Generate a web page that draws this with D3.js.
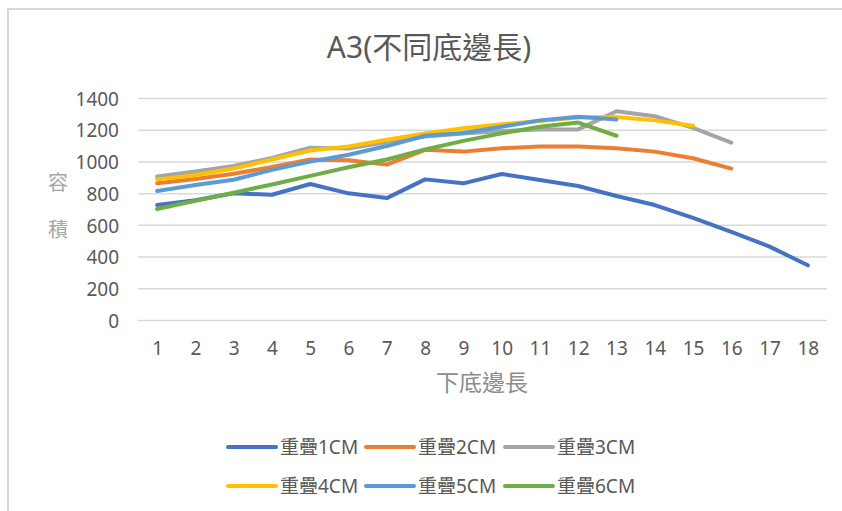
<!DOCTYPE html>
<html><head><meta charset="utf-8">
<script src="https://cdn.jsdelivr.net/npm/d3@7"></script>
<style>body{margin:0;background:#fff}</style>
</head><body><svg id="c" width="842" height="511"></svg>
<script>
const categories = ["1","2","3","4","5","6","7","8","9","10","11","12","13","14","15","16","17","18"];
const seriesNames = ["重疊1CM","重疊2CM","重疊3CM","重疊4CM","重疊5CM","重疊6CM"];
const s1 = [728,758,802,793,861,802,772,890,865,924,886,848,785,728,647,559,466,348];
const s2 = [865,893,925,968,1016,1010,983,1076,1065,1086,1098,1098,1086,1065,1023,958];
const s3 = [908,940,975,1025,1090,1085,1125,1160,1180,1195,1205,1205,1320,1288,1215,1122];
const s4 = [890,918,958,1015,1072,1098,1140,1180,1212,1238,1258,1280,1284,1262,1228];
const s5 = [817,855,888,950,1002,1045,1100,1165,1182,1222,1262,1285,1268];
const s6 = [703,755,806,858,912,966,1015,1078,1133,1180,1222,1248,1165];
const yTicks = [0,200,400,600,800,1000,1200,1400];
const colors = ["#4472C4","#ED7D31","#A5A5A5","#FFC000","#5B9BD5","#70AD47"];
const seriesVals = [s1,s2,s3,s4,s5,s6];

const svg = d3.select("#c");
const fLatin = "'Noto Sans','Noto Sans CJK TC',sans-serif";
const fCJK = "'Noto Sans CJK TC','Noto Sans',sans-serif";

svg.append("rect").attr("x",8).attr("y",9).attr("width",900).attr("height",600)
  .attr("fill","none").attr("stroke","#d9d9d9").attr("stroke-width",2);

const x = d3.scalePoint().domain(categories).range([138,827]).padding(0.5);
const y = d3.scaleLinear().domain([0,1400]).range([320.5,98.5]);

// gridlines
svg.append("g").selectAll("line").data(yTicks).join("line")
  .attr("x1",138).attr("x2",827).attr("y1",d=>y(d)).attr("y2",d=>y(d))
  .attr("stroke","#d9d9d9").attr("stroke-width",1.5);

// y axis labels
const yAxis = d3.axisLeft(y).tickValues(yTicks).tickFormat(d3.format("d")).tickSize(0).tickPadding(0);
const gy = svg.append("g").attr("transform","translate(119,0)").call(yAxis);
gy.select(".domain").remove();
gy.selectAll("text").attr("font-family",fLatin).attr("font-size",19).attr("fill","#595959").attr("dy","0.35em");

// x axis labels
const xAxis = d3.axisBottom(x).tickSize(0).tickPadding(0);
const gx = svg.append("g").attr("transform","translate(0,348)").call(xAxis);
gx.select(".domain").remove();
gx.selectAll("text").attr("font-family",fLatin).attr("font-size",19).attr("fill","#595959").attr("dy","0.35em");

// lines
const line = d3.line().x((d,i)=>x(categories[i])).y(d=>y(d));
seriesVals.forEach((vals,k)=>{
  svg.append("path").datum(vals).attr("d",line).attr("fill","none")
    .attr("stroke",colors[k]).attr("stroke-width",4).attr("stroke-linecap","round").attr("stroke-linejoin","round");
});

// title
svg.append("text").attr("x",429).attr("y",58).attr("text-anchor","middle")
  .attr("font-family",fLatin).attr("font-size",30).attr("fill","#595959").text("A3(不同底邊長)");

// axis titles
svg.append("text").attr("x",482).attr("y",391).attr("text-anchor","middle")
  .attr("font-family",fCJK).attr("font-size",23).attr("fill","#8c8c8c").text("下底邊長");
["容","積"].forEach((ch,i)=>{
  svg.append("text").attr("x",58).attr("y",190+i*47).attr("text-anchor","middle")
    .attr("font-family",fCJK).attr("font-size",20).attr("fill","#a6a6a6").text(ch);
});

// legend
const lx = [228,366,505], ly=[447,486];
seriesNames.forEach((n,k)=>{
  const cx = lx[k%3], cy = ly[Math.floor(k/3)];
  svg.append("line").attr("x1",cx).attr("x2",cx+48).attr("y1",cy).attr("y2",cy)
    .attr("stroke",colors[k]).attr("stroke-width",4).attr("stroke-linecap","round");
  svg.append("text").attr("x",cx+52).attr("y",cy).attr("dy","0.35em")
    .attr("font-family",fLatin).attr("font-size",19).attr("fill","#595959").text(n);
});
</script></body></html>
